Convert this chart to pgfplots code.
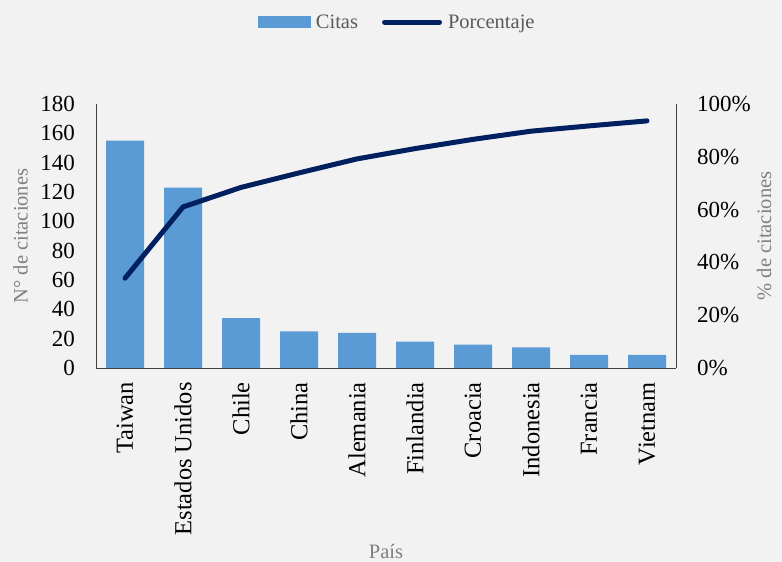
\documentclass[border=0pt]{standalone}
\usepackage{pgfplots}
\pgfplotsset{compat=1.18}
\usepackage{fontspec}
\setmainfont{Liberation Serif}
\definecolor{bg}{HTML}{F2F2F2}
\definecolor{barc}{HTML}{5B9BD5}
\definecolor{linec}{HTML}{002060}
\definecolor{axc}{HTML}{404040}
\definecolor{labc}{HTML}{808080}
\definecolor{txtc}{HTML}{595959}
\begin{document}
\begin{tikzpicture}
\fill[bg] (0,0) rectangle (782bp,562bp);
\path[use as bounding box] (0,0) rectangle (782bp,562bp);
\pgfplotsset{every axis/.append style={
  font=\fontsize{20.5bp}{24bp}\selectfont,
  scale only axis, width=580bp, height=264bp,
  at={(96bp,194bp)}, anchor=south west,
  xmin=-0.5, xmax=9.5,
  major tick length=0pt,
  axis line style={axc, line width=1pt},
  /pgf/number format/assume math mode=true,
  tick label style={text=black},
}}
\begin{axis}[
  axis x line*=bottom, axis y line*=left,
  ymin=0, ymax=180, ytick={0,20,...,180},
  xtick={0,...,9},
  xticklabels={Taiwan,Estados Unidos,Chile,China,Alemania,Finlandia,Croacia,Indonesia,Francia,Vietnam},
  x tick label style={rotate=90, anchor=east, inner sep=0pt, font=\fontsize{24.5bp}{28bp}\selectfont},
  xticklabel shift=14bp,
  y tick label style={inner sep=0pt, font=\fontsize{23bp}{26bp}\selectfont},
  yticklabel shift=21bp,
  ylabel={N° de citaciones},
  ylabel style={at={(axis description cs:-0.130,0.5)}, anchor=center, rotate=0, text=labc},
  xlabel={País},
  xlabel style={at={(axis description cs:0.5,-0.695)}, anchor=center, text=labc},
]
\addplot[ybar, bar width=38bp, fill=barc, draw=none] coordinates {
(0,155) (1,123) (2,34) (3,25) (4,24) (5,18) (6,16) (7,14) (8,9) (9,9)};
\end{axis}
\begin{axis}[
  axis x line=none, axis y line*=right,
  ymin=0, ymax=100, ytick={0,20,...,100},
  yticklabel={\pgfmathprintnumber{\tick}\%},
  y tick label style={inner sep=0pt, font=\fontsize{23bp}{26bp}\selectfont},
  yticklabel shift=21bp,
  ylabel={\% de citaciones},
  ylabel style={at={(axis description cs:1.152,0.5)}, anchor=center, rotate=0, text=labc},
  legend style={at={(axis description cs:0.519,1.31)}, anchor=center, draw=none, fill=none,
    text=txtc, legend columns=2, inner sep=0pt,
    /tikz/every even column/.append style={column sep=22bp}},
  legend cell align=left,
]
\addlegendimage{legend image code/.code={\fill[barc] (0bp,-5.5bp) rectangle (52bp,5.5bp);\path (56bp,0bp);}}
\addlegendentry{Citas}
\addplot[linec, line width=5bp, line join=round, line cap=round,
  legend image code/.code={\draw[linec, line width=5bp, line cap=round] (0bp,0bp) -- (55bp,0bp);\path (59bp,0bp);}]
  coordinates {(0,34.0) (1,61.0) (2,68.4) (3,73.9) (4,79.2) (5,83.1) (6,86.6) (7,89.7) (8,91.7) (9,93.6)};
\addlegendentry{Porcentaje}
\end{axis}
\end{tikzpicture}
\end{document}
